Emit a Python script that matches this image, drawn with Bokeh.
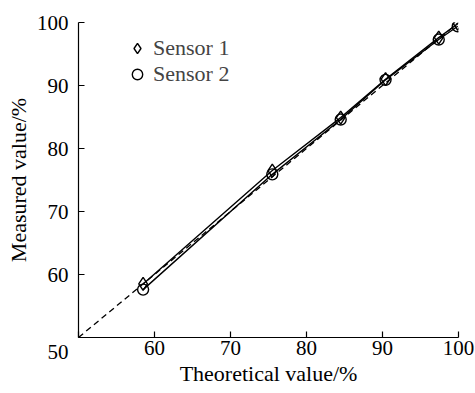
from bokeh.plotting import figure
from bokeh.models import Range1d, Legend, LegendItem, FixedTicker
from bokeh.embed import file_html
from bokeh.resources import INLINE

theoretical = [58.5, 75.5, 84.5, 90.4, 97.4, 99.9]
sensor1 = [58.5, 76.5, 84.9, 91.0, 97.6, 99.8]
sensor2 = [57.6, 75.9, 84.6, 90.9, 97.3, 99.4]
ideal_x = [50, 100]
ideal_y = [50, 100]
ticks = [50, 60, 70, 80, 90, 100]

FONT = "Liberation Serif"

p = figure(width=475, height=393, output_backend="svg", toolbar_location=None,
           x_range=Range1d(50, 100), y_range=Range1d(50, 100),
           min_border_left=78, min_border_right=17, min_border_top=22, min_border_bottom=56)
p.outline_line_color = None
p.grid.visible = False
p.background_fill_color = "white"
p.border_fill_color = "white"

p.line(ideal_x, ideal_y, line_color="black", line_width=1.3, line_dash="6 4")
p.line(theoretical, sensor1, line_color="black", line_width=1.4)
p.line(theoretical, sensor2, line_color="black", line_width=1.4)
r1 = p.scatter(theoretical, sensor1, marker="diamond", size=13,
               fill_color=None, line_color="black", line_width=1.4)
r2 = p.scatter(theoretical, sensor2, marker="circle", size=11, fill_color=None,
               line_color="black", line_width=1.4)

for ax in (p.xaxis[0], p.yaxis[0]):
    ax.ticker = FixedTicker(ticks=ticks)
    ax.major_tick_in = 6
    ax.major_tick_out = 0
    ax.minor_tick_in = 0
    ax.minor_tick_out = 0
    ax.axis_line_color = "black"
    ax.axis_line_width = 1.2
    ax.major_tick_line_color = "black"
    ax.major_tick_line_width = 1.2
    ax.major_label_text_font = FONT
    ax.major_label_text_font_size = "21px"
    ax.major_label_text_color = "black"
    ax.axis_label_text_font = FONT
    ax.axis_label_text_font_size = "22px"
    ax.axis_label_text_font_style = "normal"
    ax.axis_label_text_color = "black"

# the shared origin label "50" sits below-left of the corner
p.xaxis.major_label_overrides = {50: ""}
p.yaxis.major_label_overrides = {50: "\n50"}

p.xaxis.axis_label = "Theoretical value/%"
p.yaxis.axis_label = "Measured value/%"
p.xaxis.major_label_standoff = 3
p.yaxis.major_label_standoff = 10
p.xaxis.axis_label_standoff = 3
p.yaxis.axis_label_standoff = 3

legend = Legend(items=[LegendItem(label="Sensor 1", renderers=[r1]),
                       LegendItem(label="Sensor 2", renderers=[r2])],
                location=(44, 250), padding=0, margin=0, spacing=0,
                border_line_color=None, background_fill_alpha=0,
                label_text_font=FONT, label_text_font_size="22px",
                label_standoff=1, glyph_width=30, glyph_height=26)
p.add_layout(legend)

open("out.html", "w").write(file_html(p, INLINE))
